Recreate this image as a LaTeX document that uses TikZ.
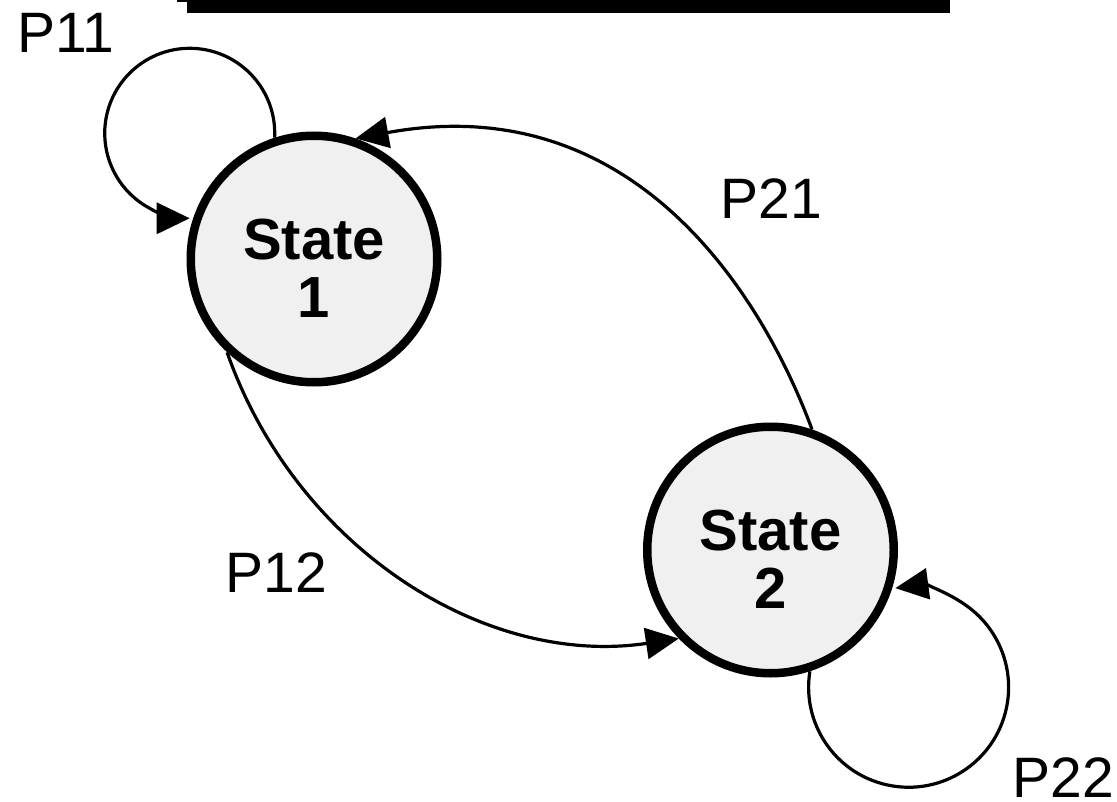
\documentclass[tikz,border=0pt]{standalone}
\usepackage{fontspec}
\setmainfont{Liberation Sans}
\usetikzlibrary{arrows.meta}

\begin{document}
\begin{tikzpicture}[x=1pt,y=1pt,
  state/.style={circle, draw=black, line width=8.5pt, fill=black!6,
                minimum size=246.5pt, inner sep=0pt},
  statetext/.style={font=\fontsize{58}{58}\selectfont\bfseries,
                    align=center, inner sep=0pt},
  plabel/.style={font=\fontsize{57}{57}\selectfont, anchor=base, inner sep=0pt},
  trans/.style={line width=3.2pt, -{Triangle[length=33pt,width=31pt]}},
]
\useasboundingbox (0,0) rectangle (1117,-802);

% heading rule along the top edge
\fill (187,0) rectangle (950,-13);
\fill (177,0) rectangle (187,-2);

% states
\node[state] (s1) at (314,-259) {};
\node[state] (s2) at (770.5,-550) {};
\node[statetext] (t1) at (314,-268) {State\\1};
\node[statetext] (t2) at (770.5,-559) {State\\2};

% self loops
\draw[trans] (s1.108) arc[start angle=-3, end angle=270, radius=85];
\draw[trans] (s2.-72) arc[start angle=170.8, end angle=457.6, radius=100];

% transitions between the states
\draw[trans] (s2.71) .. controls +(-39,106) and +(295,54) .. (s1.71);
\draw[trans] (s1.-133) .. controls +(69,-196) and +(-194,-29) .. (s2.-136);

% transition probabilities
\node[plabel] (l11) at (66,-53) {P11};
\node[plabel] (l21) at (771,-219) {P21};
\node[plabel] (l12) at (276,-592) {P12};
\node[plabel] (l22) at (1063.5,-797) {P22};
\end{tikzpicture}
\end{document}
